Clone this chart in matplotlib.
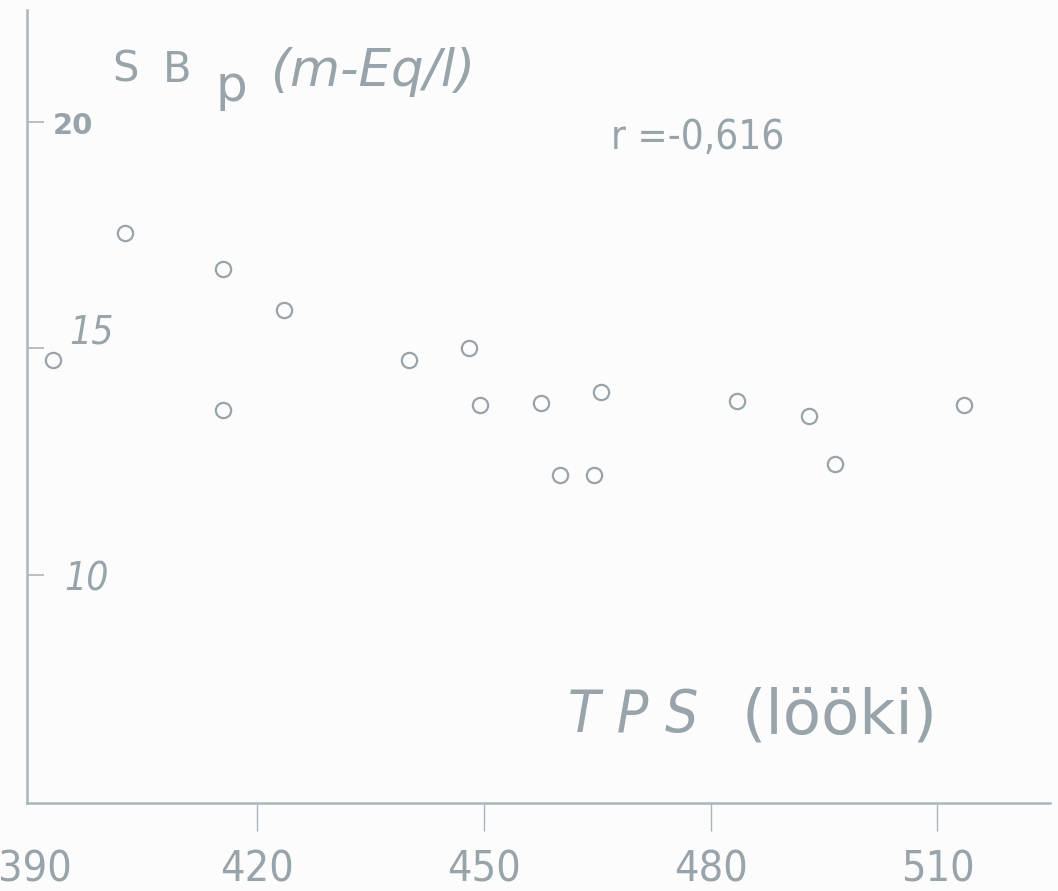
import numpy as np
import matplotlib.pyplot as plt
from matplotlib.transforms import blended_transform_factory, ScaledTranslation


# =========================================================
# TPS vs SB_p scatter
# =========================================================

tps = [393, 402.5, 415.5, 415.5, 423.5, 440, 448, 449.5,
       457.5, 460, 464.5, 465.5, 483.5, 493, 496.5, 513.5]
sbp = [14.75, 17.55, 16.75, 13.65, 15.85, 14.75, 15.0, 13.75,
       13.8, 12.2, 12.2, 14.05, 13.85, 13.5, 12.45, 13.75]

x_ticks = [390, 420, 450, 480, 510]
x_tick_labels = ["390", "420", "450", "480", "510"]
y_ticks = [10, 15, 20]
y_tick_labels = ["10", "15", "20"]

r_text = "r =-0,616"

ink = "#98a3aa"
line_ink = "#aab6bd"
narrow = dict(family="DejaVu Sans", fontstretch="condensed")

fig = plt.figure(figsize=(10.58, 8.91), dpi=100, facecolor="#fcfcfc")
ax = fig.add_axes([0.0255, 0.0988, 0.967, 0.89])
ax.set_facecolor("#fcfcfc")

ax.plot(
    tps, sbp,
    linestyle="none",
    marker="o",
    markersize=11,
    markerfacecolor="none",
    markeredgecolor=ink,
    markeredgewidth=1.6
)

ax.set_xlim(389.5, 524.9)
ax.set_ylim(4.97, 22.47)

for side in ["top", "right"]:
    ax.spines[side].set_visible(False)
for side in ["left", "bottom"]:
    ax.spines[side].set_color(line_ink)
    ax.spines[side].set_linewidth(1.8)

# -----------------------------------------------------
# x ticks: outward, narrow upright labels
# -----------------------------------------------------

ax.set_xticks(x_ticks)
ax.set_xticklabels(x_tick_labels, fontsize=31, color=ink, **narrow)
ax.tick_params(axis="x", direction="out", length=20, width=1.0,
               color=line_ink, pad=13)
ax.xaxis.get_major_ticks()[0].tick1line.set_visible(False)

# first label sits in the corner, nudged a little right
first = ax.get_xticklabels()[0]
first.set_transform(first.get_transform()
                    + ScaledTranslation(4 / 100, 0, fig.dpi_scale_trans))

# -----------------------------------------------------
# y ticks: inward, labels drawn next to them
# -----------------------------------------------------

ax.set_yticks(y_ticks)
ax.set_yticklabels([])
ax.tick_params(axis="y", direction="in", length=12, width=1.2,
               color=line_ink)

ytrans = blended_transform_factory(ax.transAxes, ax.transData)
label_style = {
    10: dict(dx=0.036, dy=-0.1, style="italic", size=28),
    15: dict(dx=0.041, dy=0.35, style="italic", size=28),
    20: dict(dx=0.025, dy=-0.1, style="normal", size=21),
}
for val, lab in zip(y_ticks, y_tick_labels):
    st = label_style[val]
    if val == 20:
        font = dict(family="DejaVu Sans", fontweight="bold")
    else:
        font = narrow
    ax.text(st["dx"], val + st["dy"], lab, transform=ytrans,
            fontsize=st["size"], fontstyle=st["style"], color=ink,
            ha="left", va="center", **font)

# -----------------------------------------------------
# axis titles and correlation
# -----------------------------------------------------

fig.text(112 / 1058, 1 - 82 / 891, "S", fontsize=30, color=ink,
         ha="left", va="baseline", family="DejaVu Sans")
fig.text(163 / 1058, 1 - 82 / 891, "B", fontsize=30, color=ink,
         ha="left", va="baseline", family="DejaVu Sans")
fig.text(216 / 1058, 1 - 101 / 891, "p", fontsize=36, color=ink,
         ha="left", va="baseline", family="DejaVu Sans")
fig.text(270 / 1058, 1 - 86 / 891, "(m-Eq/l)", fontsize=37, color=ink,
         ha="left", va="baseline", fontstyle="italic",
         family="DejaVu Sans")

fig.text(611 / 1058, 1 - 149 / 891, r_text, fontsize=29, color=ink,
         ha="left", va="baseline", **narrow)

fig.text(568 / 1058, 1 - 732 / 891, "T P S", fontsize=42, color=ink,
         ha="left", va="baseline", fontstyle="italic", **narrow)
fig.text(742 / 1058, 1 - 733 / 891, "(lööki)", fontsize=45, color=ink,
         ha="left", va="baseline", family="DejaVu Sans")

fig.savefig("out.png", dpi=100, facecolor=fig.get_facecolor())
